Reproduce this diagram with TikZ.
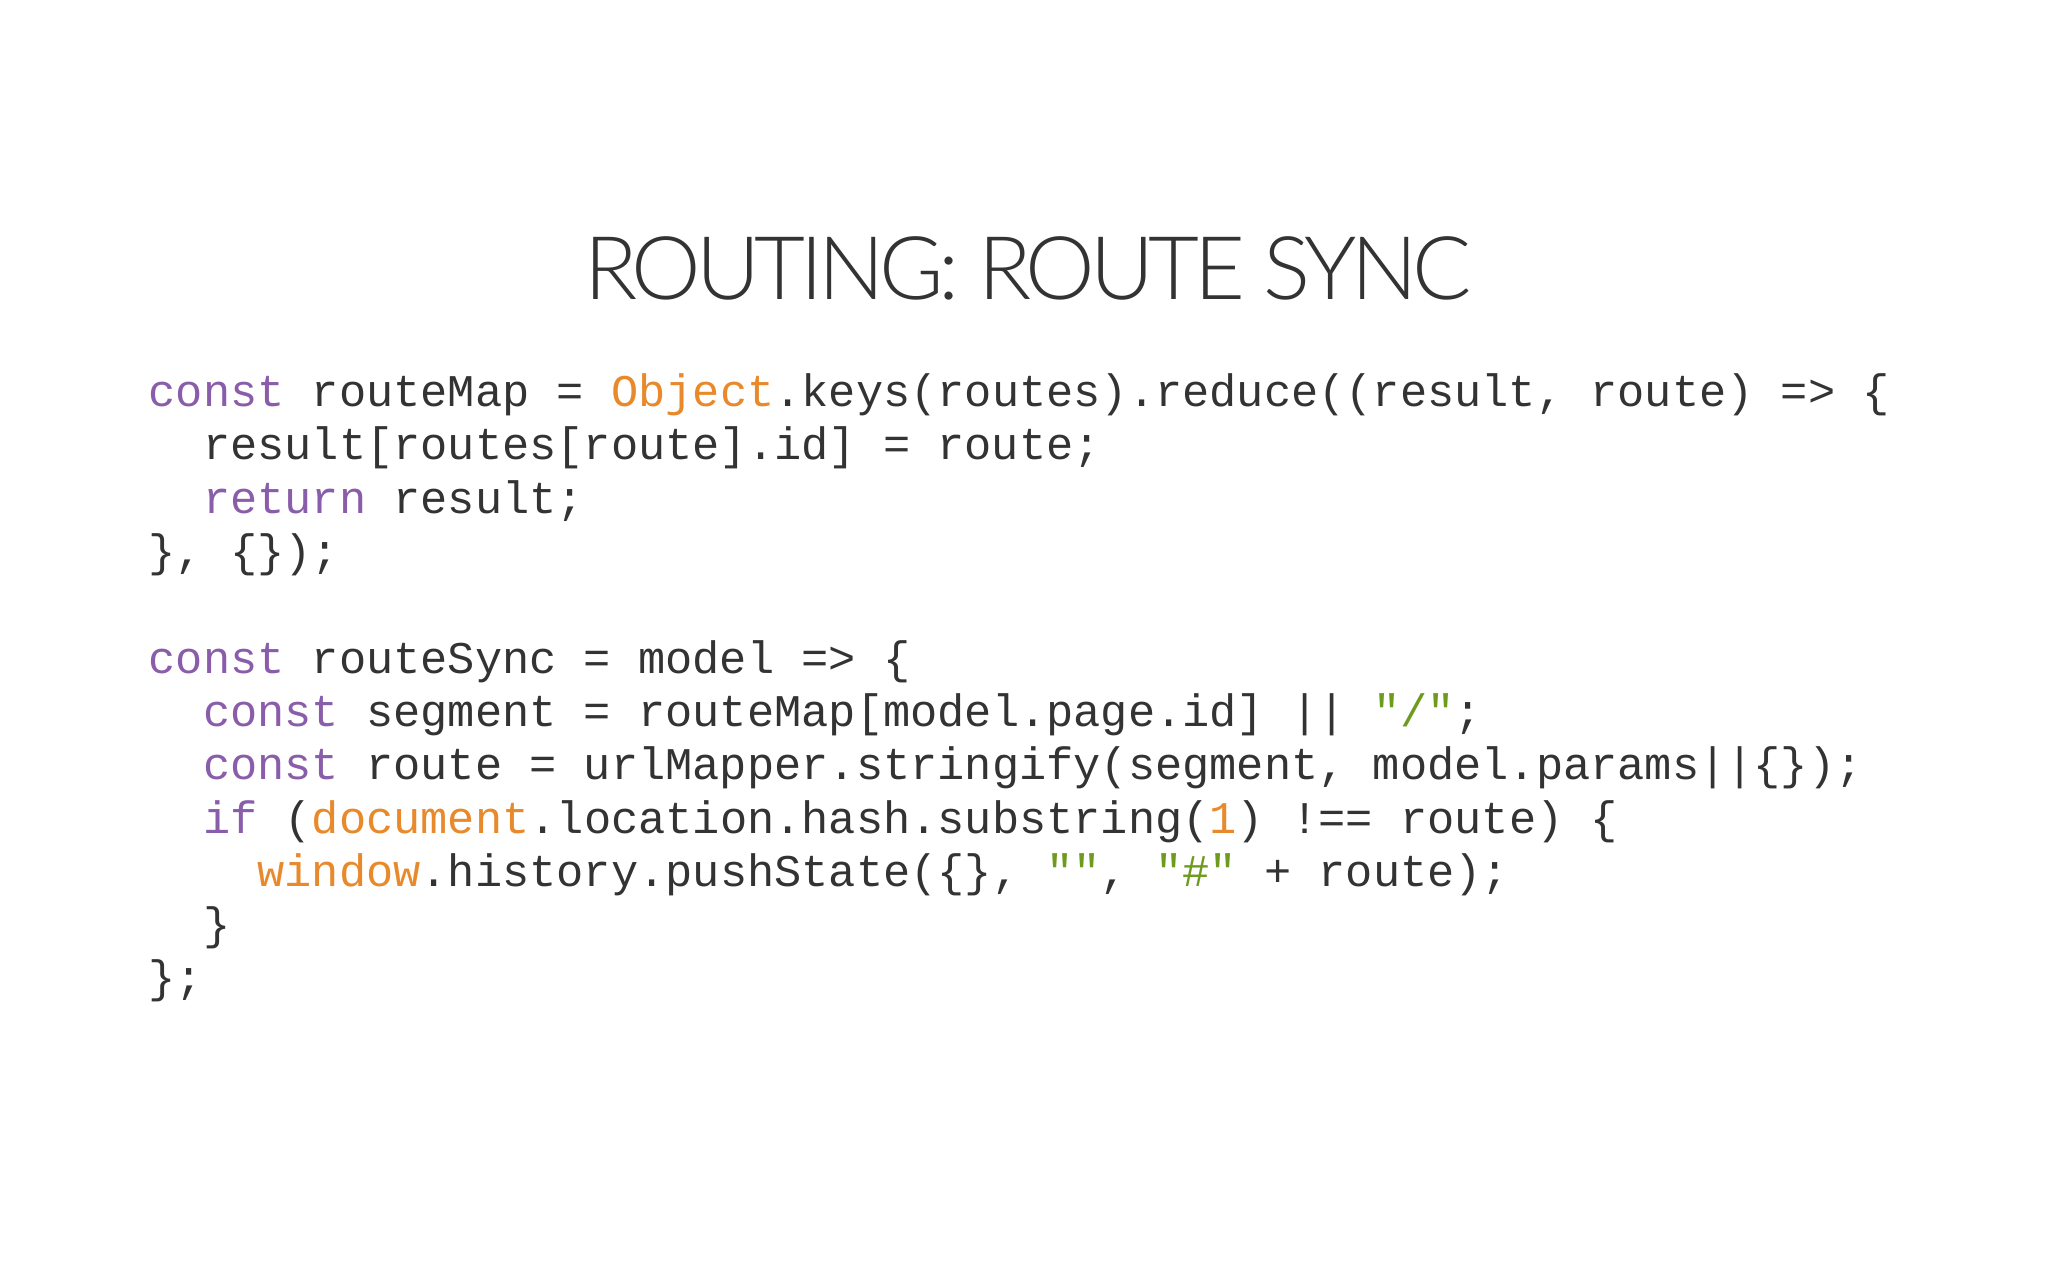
\documentclass[tikz,border=0pt]{standalone}
\usepackage{fontspec}
\newfontfamily\code{Liberation Mono}
\newfontfamily\titlefont{Lato}[UprightFont=* Light,LetterSpace=-6]
\definecolor{kw}{HTML}{8A5DAA}
\definecolor{obj}{HTML}{E8892B}
\definecolor{str}{HTML}{6E9A1E}
\definecolor{txt}{HTML}{333333}
\tikzset{codeline/.style={anchor=base west,inner sep=0pt,font=\code\fontsize{12.9pt}{14pt}\selectfont,text=txt}}
\begin{document}
\begin{tikzpicture}[x=1cm,y=1cm]
\useasboundingbox (0,0) rectangle (20.48,-12.8);
\node[anchor=base,inner sep=0pt,text=txt,font=\titlefont\fontsize{25pt}{28pt}\selectfont] (title) at (10.28,-3.0) {ROUTING: ROUTE SYNC};
\node[codeline] (l1) at (1.48,-4.07) {\textcolor{kw}{const} routeMap = \textcolor{obj}{Object}.keys(routes).reduce((result, route) => \{};
\node[codeline] (l2) at (1.48,-4.60) {\ \ result[routes[route].id] = route;};
\node[codeline] (l3) at (1.48,-5.14) {\ \ \textcolor{kw}{return} result;};
\node[codeline] (l4) at (1.48,-5.67) {\}, \{\});};
\node[codeline] (l5) at (1.48,-6.74) {\textcolor{kw}{const} routeSync = model => \{};
\node[codeline] (l6) at (1.48,-7.27) {\ \ \textcolor{kw}{const} segment = routeMap[model.page.id] || \textcolor{str}{"/"};};
\node[codeline] (l7) at (1.48,-7.80) {\ \ \textcolor{kw}{const} route = urlMapper.stringify(segment, model.params||\{\});};
\node[codeline] (l8) at (1.48,-8.34) {\ \ \textcolor{kw}{if} (\textcolor{obj}{document}.location.hash.substring(\textcolor{obj}{1}) !== route) \{};
\node[codeline] (l9) at (1.48,-8.87) {\ \ \ \ \textcolor{obj}{window}.history.pushState(\{\}, \textcolor{str}{""}, \textcolor{str}{"\#"} + route);};
\node[codeline] (l10) at (1.48,-9.40) {\ \ \}};
\node[codeline] (l11) at (1.48,-9.93) {\};};
\end{tikzpicture}
\end{document}
